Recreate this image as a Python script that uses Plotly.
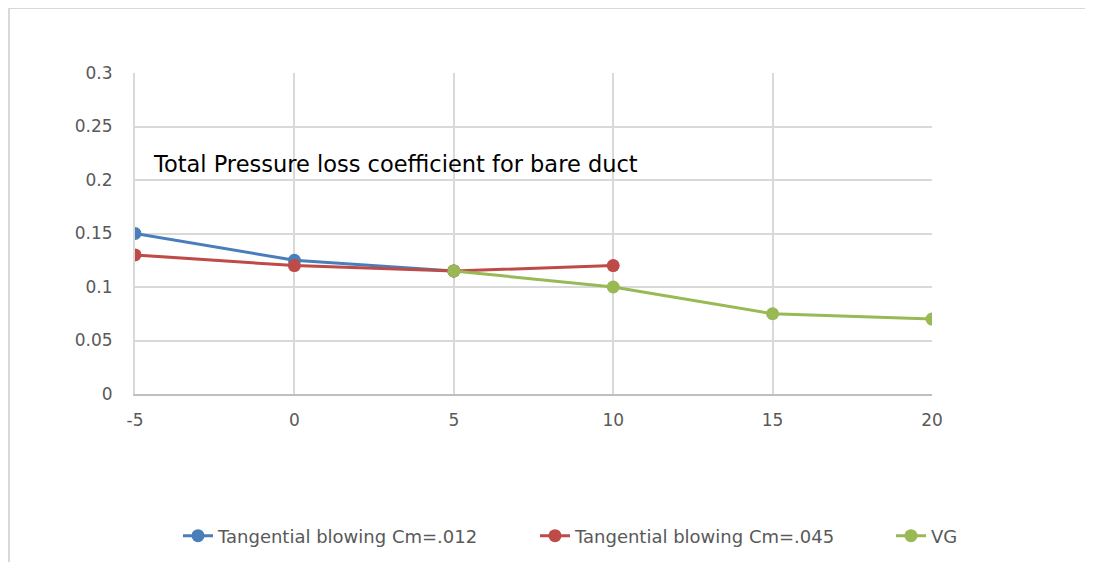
import plotly.graph_objects as go

x_blue = [-5, 0, 5]
y_blue = [0.15, 0.125, 0.115]
x_red = [-5, 0, 5, 10]
y_red = [0.13, 0.12, 0.115, 0.12]
x_vg = [5, 10, 15, 20]
y_vg = [0.115, 0.1, 0.075, 0.07]

x_ticks = [-5, 0, 5, 10, 15, 20]
x_ticktext = ["-5", "0", "5", "10", "15", "20"]
y_ticks = [0, 0.05, 0.1, 0.15, 0.2, 0.25, 0.3]
y_ticktext = ["0", "0.05", "0.1", "0.15", "0.2", "0.25", "0.3"]

names = ["Tangential blowing Cm=.012", "Tangential blowing Cm=.045", "VG"]
colors = ["#4a7ebb", "#be4b48", "#98b954"]
legends = ["legend", "legend2", "legend3"]

fig = go.Figure()
for xs, ys, nm, c, lg in [(x_blue, y_blue, names[0], colors[0], legends[0]),
                          (x_red, y_red, names[1], colors[1], legends[1]),
                          (x_vg, y_vg, names[2], colors[2], legends[2])]:
    fig.add_trace(go.Scatter(x=xs, y=ys, name=nm, mode="lines+markers", legend=lg,
                             line=dict(color=c, width=3),
                             marker=dict(color=c, size=13)))

# page offset of 8px (body margin)
OFF = 8
W, H = 1093 - OFF, 562 - OFF
L, R, T, B = 135 - OFF, 1093 - 932, 73 - OFF, 562 - 394
pw, ph = W - L - R, H - T - B

def px(x):
    return (x - OFF - L) / pw

def py(y):
    return 1 - (y - OFF - T) / ph

def cx(x):
    return (x - OFF) / W

def cy(y):
    return 1 - (y - OFF) / H

FONT = "'DejaVu Sans', sans-serif"
LEG_FONT = dict(family=FONT, size=18, color="#595959")

def leg(xpage):
    return dict(orientation="h", xref="container", yref="container",
                x=cx(xpage), xanchor="left", y=cy(536), yanchor="middle",
                font=LEG_FONT, bgcolor="rgba(0,0,0,0)")

fig.update_layout(
    width=W, height=H,
    margin=dict(l=L, r=R, t=T, b=B),
    paper_bgcolor="white", plot_bgcolor="white",
    font=dict(family=FONT, color="#595959", size=17),
    showlegend=True,
    legend=leg(178), legend2=leg(535), legend3=leg(891),
    xaxis=dict(range=[-5, 20], tickvals=x_ticks, ticktext=x_ticktext, showgrid=True,
               gridcolor="#d9d9d9", gridwidth=2, zeroline=False, showline=True,
               linecolor="#bfbfbf", linewidth=2, ticks="", ticklabelstandoff=10),
    yaxis=dict(range=[0, 0.3], tickvals=y_ticks, ticktext=y_ticktext,
               showgrid=True, gridcolor="#d9d9d9", gridwidth=2, zeroline=False,
               showline=True, linecolor="#d9d9d9", linewidth=2, ticks="",
               ticklabelstandoff=17),
    annotations=[dict(text="Total Pressure loss coefficient for bare duct",
                      xref="paper", yref="paper", x=px(151), y=py(164),
                      xanchor="left", yanchor="middle", showarrow=False,
                      font=dict(family=FONT, size=22.5, color="black"))],
    shapes=[
        dict(type="line", xref="paper", yref="paper", x0=px(9), x1=px(1093),
             y0=py(8), y1=py(8), line=dict(color="#d9d9d9", width=2)),
        dict(type="line", xref="paper", yref="paper", x0=px(9), x1=px(9),
             y0=py(8), y1=py(562), line=dict(color="#d9d9d9", width=2)),
    ],
)

fig.write_html("out.html")
